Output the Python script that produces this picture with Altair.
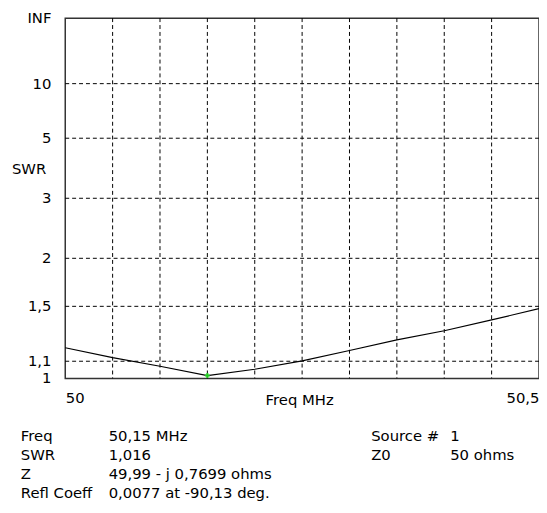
import altair as alt
import pandas as pd

# ---- data ----
freq = [50.00, 50.05, 50.10, 50.15, 50.20, 50.25, 50.30, 50.35, 50.40, 50.45, 50.50]
swr = [1.186, 1.122, 1.070, 1.016, 1.052, 1.102, 1.168, 1.239, 1.305, 1.388, 1.480]

marker_freq = [50.15]
marker_swr = [1.016]

swr_tick_values = [1.0, 1.1, 1.5, 2.0, 3.0, 5.0, 10.0, float("inf")]
swr_tick_labels = ["1", "1,1", "1,5", "2", "3", "5", "10", "INF"]
grid_swr = [1.1, 1.5, 2.0, 3.0, 5.0, 10.0]
grid_freq = [50.05, 50.10, 50.15, 50.20, 50.25, 50.30, 50.35, 50.40, 50.45]
x_axis_values = [50.0, 50.5]

info_left_labels = ["Freq", "SWR", "Z", "Refl Coeff"]
info_left_values = ["50,15 MHz", "1,016", "49,99 - j 0,7699 ohms", "0,0077 at -90,13 deg."]
info_right_labels = ["Source #", "Z0"]
info_right_values = ["1", "50 ohms"]

FONT = "DejaVu Sans"
FS = 15


def rho(s):
    return 1.0 if s == float("inf") else (s - 1.0) / (s + 1.0)


curve = pd.DataFrame({"freq": freq, "swr": swr})
curve["rho"] = [rho(s) for s in swr]
marker = pd.DataFrame({"freq": marker_freq, "swr": marker_swr})
marker["rho"] = [rho(s) for s in marker_swr]
yticks = pd.DataFrame({"rho": [rho(s) for s in swr_tick_values], "label": swr_tick_labels})
hgrid = pd.DataFrame({"rho": [rho(s) for s in grid_swr]})
vgrid = pd.DataFrame({"freq": grid_freq})
dummy = pd.DataFrame({"a": [0]})

xscale = alt.Scale(domain=[50.0, 50.5], nice=False, zero=False)
yscale = alt.Scale(domain=[0, 1], nice=False, zero=False)

xaxis = alt.Axis(
    values=x_axis_values,
    labelExpr="replace(format(datum.value, '.1~f'), '.', ',')",
    labelFlush=True,
    labelPadding=12,
    labelFont=FONT,
    labelFontSize=FS,
    labelColor="black",
    domain=False,
    ticks=False,
    grid=False,
    title="Freq MHz",
    titleFont=FONT,
    titleFontSize=FS,
    titleFontWeight="normal",
    titleColor="black",
    titleX=237,
    titleY=26,
    titleAlign="center",
    titleBaseline="alphabetic",
)

vg = alt.Chart(vgrid).mark_rule(color="black", strokeDash=[4, 3], strokeWidth=1).encode(
    x=alt.X("freq:Q", scale=xscale, axis=xaxis)
)
hg = alt.Chart(hgrid).mark_rule(color="black", strokeDash=[4, 3], strokeWidth=1).encode(
    y=alt.Y("rho:Q", scale=yscale, axis=None)
)
line = alt.Chart(curve).mark_line(color="black", strokeWidth=1.2).encode(
    x=alt.X("freq:Q", scale=xscale, axis=xaxis),
    y=alt.Y("rho:Q", scale=yscale, axis=None),
)
pt = alt.Chart(marker).mark_point(shape="cross", filled=True, color="#22cc22", size=25, opacity=1).encode(
    x=alt.X("freq:Q", scale=xscale, axis=xaxis),
    y=alt.Y("rho:Q", scale=yscale, axis=None),
)
ylabels = alt.Chart(yticks).mark_text(align="right", baseline="middle", font=FONT, fontSize=FS, color="black").encode(
    y=alt.Y("rho:Q", scale=yscale, axis=None),
    x=alt.value(-14),
    text="label:N",
)
swr_title = alt.Chart(dummy).mark_text(align="left", baseline="middle", font=FONT, fontSize=FS, color="black").encode(
    x=alt.value(-54), y=alt.value(153), text=alt.value("SWR")
)


def column(lines, x, y):
    return alt.Chart(dummy).mark_text(
        align="left", baseline="alphabetic", lineHeight=19.5, font=FONT, fontSize=FS, color="black"
    ).encode(x=alt.value(x), y=alt.value(y), text=alt.value(lines))


info = [
    column(info_left_labels, -45, 428),
    column(info_left_values, 44, 428),
    column(info_right_labels, 310, 428),
    column(info_right_values, 390, 428),
]

chart = alt.layer(vg, hg, line, pt, ylabels, swr_title, *info).properties(
    width=480,
    height=365,
    autosize="none",
    padding={"left": 58, "top": 7, "right": 0, "bottom": 125},
    background="white",
).configure_view(stroke="#333333", strokeWidth=1.5)

chart.save("out.html", embed_options={"renderer": "svg", "actions": False})
